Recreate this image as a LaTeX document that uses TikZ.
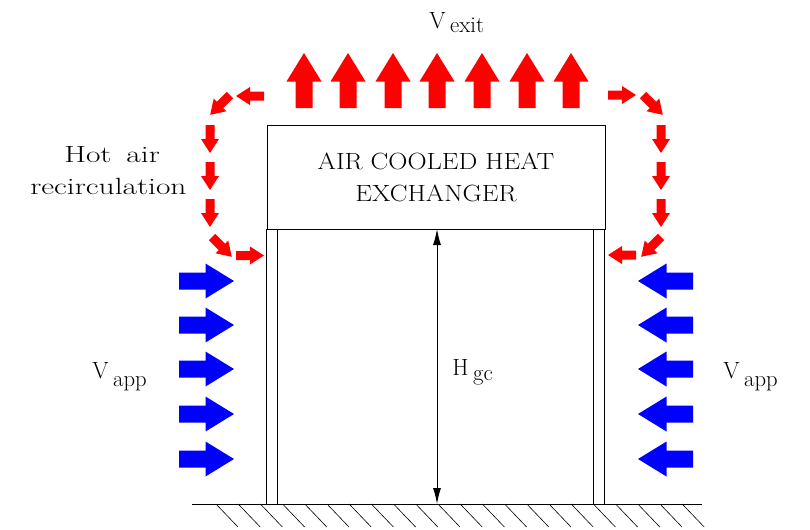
\documentclass[tikz,border=0pt]{standalone}
\usepackage{graphicx}
\usetikzlibrary{arrows.meta}
\definecolor{hotred}{RGB}{255,0,0}
\definecolor{coolblue}{RGB}{0,0,255}
\tikzset{
  wall/.style={line width=0.75pt, black},
  hatch/.style={line width=0.45pt, black},
  label/.style={inner sep=0pt, anchor=base west, font=\fontsize{17.6}{24}\selectfont},
  big arrow/.pic={\fill (0,-8.5) -- (26.5,-8.5) -- (26.5,-17.5) -- (55,0) -- (26.5,17.5) -- (26.5,8.5) -- (0,8.5) -- cycle;},
  small arrow/.pic={\fill (0,-4.5) -- (14,-4.5) -- (14,-9) -- (28,0) -- (14,9) -- (14,4.5) -- (0,4.5) -- cycle;}
}
\newcommand{\lowsub}[3]{#1\hspace{3.5pt}\raisebox{-#3}{\fontsize{17}{19}\selectfont #2}}
\begin{document}
\begin{tikzpicture}[x=0.75pt,y=-0.75pt]
  \useasboundingbox (0,0) rectangle (810,529);

  % Aerorefrigerante
  \node[wall, draw, minimum width=253.5pt, minimum height=78.4pt, inner sep=0pt, anchor=north west,
        font=\fontsize{17.6}{24}\selectfont, align=center] (exchanger) at (266.5,124.5)
    {\scalebox{1.13}[1]{AIR COOLED HEAT}\\\scalebox{1.13}[1]{EXCHANGER}};

  % Base
  \coordinate (groundL) at (192,504);
  \coordinate (groundR) at (702,504);
  \draw[wall] (groundL) -- (groundR);
  \foreach \k in {0,...,21}
    \draw[hatch] ({216+22.2*\k},504) -- ({238+22.2*\k},527);

  % Colunas
  \draw[wall] (266.5,229) -- (266.5,504);
  \draw[wall] (277.5,229) -- (277.5,504);
  \draw[wall] (593.5,229) -- (593.5,504);
  \draw[wall] (604.5,229) -- (604.5,504);

  % Altura
  \coordinate (hTop) at (437,229);
  \coordinate (hBot) at (437,504);
  \draw[wall, {Latex[length=12pt,width=6pt]}-{Latex[length=12pt,width=6pt]}] (hTop) -- (hBot);

  % Vento
  \foreach \y in {281,325,369,414,459} {
    \pic[coolblue] at (179,\y) {big arrow};
    \pic[coolblue, xscale=-1] at (693,\y) {big arrow};
  }

  % Saida
  \foreach \x in {304,348,393,437,482,527,571}
    \pic[hotred, rotate=90] at (\x,108) {big arrow};

  % Recirculacao
  \pic[hotred, xscale=-1] at (264,96) {small arrow};
  \pic[hotred, rotate=225] at (230,95) {small arrow};
  \foreach \y in {125,162,199} {
    \pic[hotred, rotate=-90] at (210,\y) {small arrow};
    \pic[hotred, rotate=-90] at (661,\y) {small arrow};
  }
  \pic[hotred, rotate=-45] at (212,237) {small arrow};
  \pic[hotred] at (236,255.5) {small arrow};

  \pic[hotred] at (608,95) {small arrow};
  \pic[hotred, rotate=-45] at (643,95) {small arrow};
  \pic[hotred, rotate=-135] at (661,237) {small arrow};
  \pic[hotred, xscale=-1] at (636,255) {small arrow};

  % Rotulos
  \node[label] (vexit) at (429,28) {\lowsub{V}{exit}{3pt}};
  \node[label] (vappL) at (92,378) {\lowsub{V}{app}{6pt}};
  \node[label] (vappR) at (723,378) {\lowsub{V}{app}{6pt}};
  \node[label] (hgc) at (452,375) {\lowsub{H}{gc}{4pt}};
  \node[label] (hotair) at (64,162) {\scalebox{1.34}[1]{Hot\hspace{3pt} air}};
  \node[label] (recirc) at (30,194) {\scalebox{1.34}[1]{recirculation}};
\end{tikzpicture}
\end{document}
